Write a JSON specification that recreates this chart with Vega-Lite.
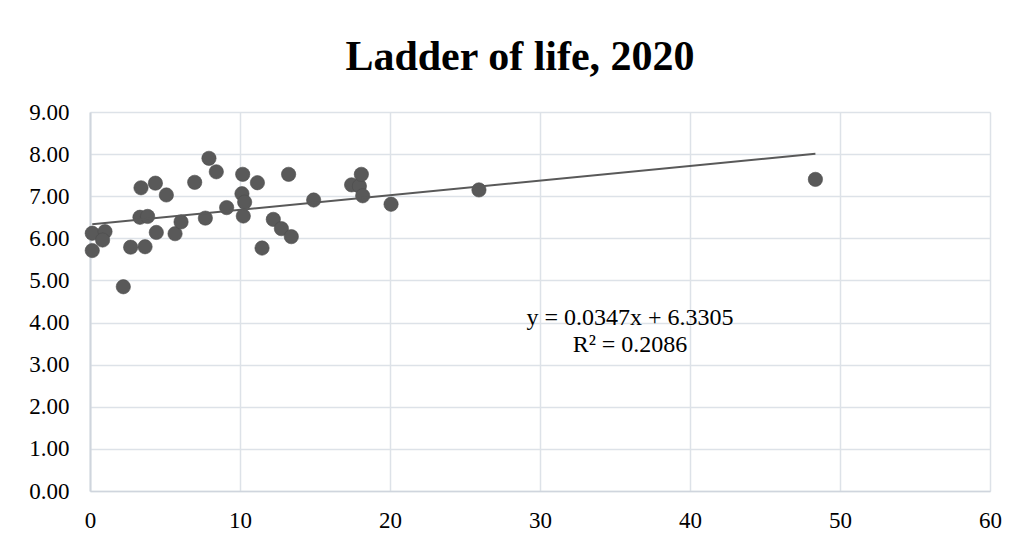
{
  "$schema": "https://vega.github.io/schema/vega-lite/v6.json",
  "width": 900,
  "height": 379,
  "autosize": {"type": "none"},
  "padding": {"left": 90, "top": 112, "right": 34, "bottom": 54},
  "background": "white",
  "config": {
    "view": {"stroke": null},
    "font": "Liberation Serif",
    "axis": {
      "labelFont": "Liberation Serif",
      "labelFontSize": 23,
      "labelColor": "#000000",
      "gridColor": "#dde2e8",
      "gridWidth": 1.5,
      "ticks": false,
      "labelFlush": false,
      "title": null
    }
  },
  "title": {
    "text": "Ladder of life, 2020",
    "font": "Liberation Serif",
    "fontSize": 42,
    "fontWeight": "bold",
    "color": "#000000",
    "anchor": "middle",
    "baseline": "alphabetic",
    "offset": -11,
    "dx": -20
  },
  "datasets": {
    "pts": [
      {"x": 0.15, "y": 6.12}, {"x": 1.0, "y": 6.16}, {"x": 0.84, "y": 5.96}, {"x": 0.15, "y": 5.71},
      {"x": 2.22, "y": 4.85}, {"x": 2.71, "y": 5.79}, {"x": 3.67, "y": 5.80}, {"x": 3.40, "y": 7.20},
      {"x": 3.33, "y": 6.50}, {"x": 3.84, "y": 6.52}, {"x": 4.36, "y": 7.31}, {"x": 5.09, "y": 7.03},
      {"x": 4.42, "y": 6.14}, {"x": 5.67, "y": 6.11}, {"x": 6.07, "y": 6.39}, {"x": 6.98, "y": 7.33},
      {"x": 7.69, "y": 6.48}, {"x": 7.93, "y": 7.90}, {"x": 8.42, "y": 7.58}, {"x": 9.11, "y": 6.73},
      {"x": 10.18, "y": 7.52}, {"x": 10.13, "y": 7.06}, {"x": 10.31, "y": 6.86}, {"x": 10.22, "y": 6.53},
      {"x": 11.16, "y": 7.32}, {"x": 11.47, "y": 5.77}, {"x": 12.22, "y": 6.45}, {"x": 12.76, "y": 6.23},
      {"x": 13.42, "y": 6.04}, {"x": 13.24, "y": 7.52}, {"x": 14.91, "y": 6.91}, {"x": 17.44, "y": 7.27},
      {"x": 17.96, "y": 7.24}, {"x": 18.09, "y": 7.52}, {"x": 18.18, "y": 7.01}, {"x": 20.07, "y": 6.81},
      {"x": 25.93, "y": 7.15}, {"x": 48.36, "y": 7.40}
    ],
    "trend": [
      {"x": 0.15, "y": 6.336},
      {"x": 48.36, "y": 8.009}
    ]
  },
  "layer": [
    {
      "data": {"name": "pts"},
      "mark": {"type": "point", "filled": true, "size": 205, "color": "#595959", "opacity": 1, "stroke": "#4d4d4d", "strokeWidth": 0.6},
      "encoding": {
        "x": {
          "field": "x", "type": "quantitative",
          "scale": {"domain": [0, 60], "nice": false, "zero": false},
          "axis": {"values": [0, 10, 20, 30, 40, 50, 60], "labelPadding": 18, "domainColor": "#cfd5dd", "domainWidth": 1.5}
        },
        "y": {
          "field": "y", "type": "quantitative",
          "scale": {"domain": [0, 9], "nice": false, "zero": false},
          "axis": {"values": [0, 1, 2, 3, 4, 5, 6, 7, 8, 9], "format": ".2f", "labelPadding": 21, "domainColor": "#cfd5dd", "domainWidth": 2}
        }
      }
    },
    {
      "data": {"name": "trend"},
      "mark": {"type": "line", "color": "#595959", "strokeWidth": 2},
      "encoding": {
        "x": {"field": "x", "type": "quantitative"},
        "y": {"field": "y", "type": "quantitative"}
      }
    },
    {
      "data": {"values": [{}]},
      "mark": {
        "type": "text",
        "text": ["y = 0.0347x + 6.3305", "R² = 0.2086"],
        "font": "Liberation Serif",
        "fontSize": 24,
        "lineHeight": 27,
        "align": "center",
        "baseline": "middle",
        "color": "#000000"
      },
      "encoding": {
        "x": {"datum": 36, "type": "quantitative"},
        "y": {"datum": 4.1, "type": "quantitative"}
      }
    }
  ]
}
